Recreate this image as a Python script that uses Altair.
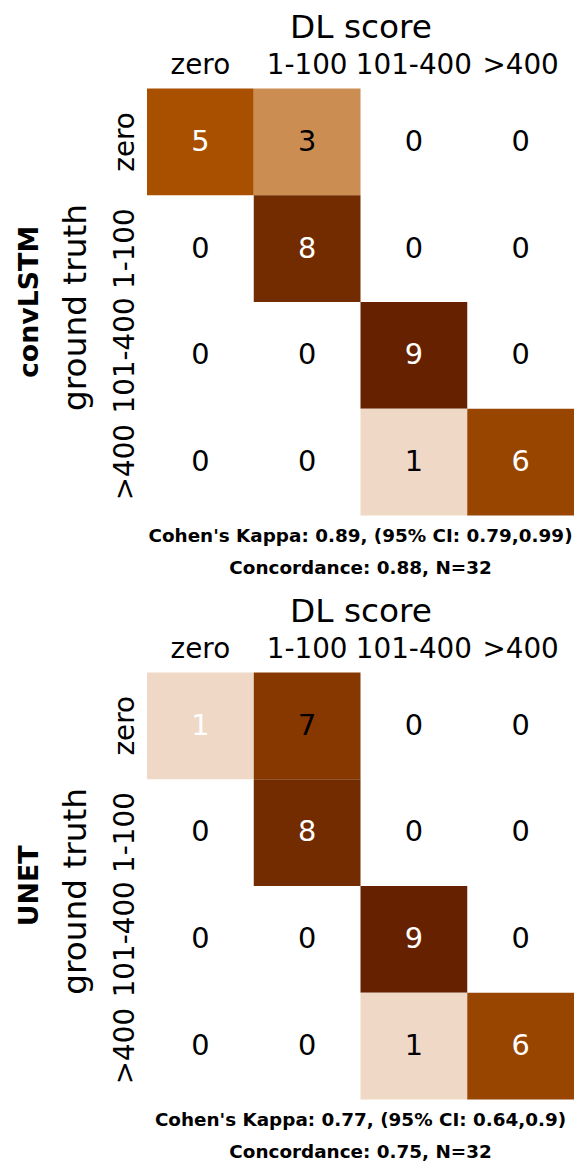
import altair as alt
import pandas as pd

categories = ["zero", "1-100", "101-400", ">400"]
convlstm_counts = [[5, 3, 0, 0],
                   [0, 8, 0, 0],
                   [0, 0, 9, 0],
                   [0, 0, 1, 6]]
unet_counts = [[1, 7, 0, 0],
               [0, 8, 0, 0],
               [0, 0, 9, 0],
               [0, 0, 1, 6]]
model_names = ["convLSTM", "UNET"]
kappa_texts = ["Cohen's Kappa: 0.89, (95% CI: 0.79,0.99)",
               "Cohen's Kappa: 0.77, (95% CI: 0.64,0.9)"]
concordance_texts = ["Concordance: 0.88, N=32", "Concordance: 0.75, N=32"]

color_domain = [1, 3, 5, 6, 7, 8, 9]
color_range = ["#efd9c6", "#cc8d52", "#a85000", "#984500", "#873800", "#732b00", "#662200"]

FONT = "DejaVu Sans"
W = 430
H = 430

# cells whose annotation is drawn in black in the reference
dark_text = {
    "convLSTM": "datum.v == 0 || datum.v == 3 || datum.v == 1",
    "UNET": "datum.v == 0 || datum.v == 7 || (datum.v == 1 && datum.truth == '>400')",
}


def panel(counts, name, kappa, conc):
    rows = []
    for i, t in enumerate(categories):
        for j, p in enumerate(categories):
            rows.append({"truth": t, "pred": p, "v": counts[i][j]})
    df = pd.DataFrame(rows)

    base = alt.Chart(df).encode(
        x=alt.X("pred:N", sort=categories,
                scale=alt.Scale(paddingInner=0, paddingOuter=0),
                axis=alt.Axis(orient="top", title="DL score", labelAngle=0,
                              labelFontSize=28, labelPadding=15,
                              labelBaseline="alphabetic",
                              titleFontSize=33, titleFontWeight="normal",
                              titleX=W / 2, titleY=-51, titleBaseline="alphabetic",
                              titleAlign="center")),
        y=alt.Y("truth:N", sort=categories,
                scale=alt.Scale(paddingInner=0, paddingOuter=0),
                axis=alt.Axis(orient="left", title="ground truth", labelAngle=270,
                              labelFontSize=28, labelPadding=14,
                              labelAlign="center", labelBaseline="alphabetic",
                              titleFontSize=33, titleFontWeight="normal",
                              titleAngle=270, titleX=-62, titleY=H / 2 + 5,
                              titleBaseline="alphabetic", titleAlign="center")),
    )
    rect = base.mark_rect().encode(
        color=alt.Color("v:Q", scale=alt.Scale(domain=color_domain, range=color_range),
                        legend=None)
    ).transform_filter("datum.v > 0")
    text = base.mark_text(font=FONT, fontSize=29, baseline="middle").encode(
        text="v:Q",
        color=alt.condition(dark_text[name], alt.value("black"), alt.value("white")),
    )
    info = pd.DataFrame({"name": [name], "kappa": [kappa], "conc": [conc]})
    label = alt.Chart(info).mark_text(font=FONT, fontSize=27, fontWeight="bold",
                                      angle=270, baseline="alphabetic", align="center",
                                      color="black").encode(
        x=alt.value(-110), y=alt.value(H / 2), text="name:N")
    ktext = alt.Chart(info).mark_text(font=FONT, fontSize=18.5, fontWeight="bold",
                                      baseline="middle", align="center",
                                      color="black").encode(
        x=alt.value(W / 2), y=alt.value(H + 21), text="kappa:N")
    ctext = alt.Chart(info).mark_text(font=FONT, fontSize=18.5, fontWeight="bold",
                                      baseline="middle", align="center",
                                      color="black").encode(
        x=alt.value(W / 2), y=alt.value(H + 53), text="conc:N")
    return alt.layer(rect, text, label, ktext, ctext).properties(width=W, height=H)


chart = alt.vconcat(
    panel(convlstm_counts, model_names[0], kappa_texts[0], concordance_texts[0]),
    panel(unet_counts, model_names[1], kappa_texts[1], concordance_texts[1]),
    spacing=18,
).configure_view(stroke=None).configure_axis(
    domain=False, ticks=False, tickSize=0, grid=False,
    labelFont=FONT, titleFont=FONT, labelColor="black", titleColor="black",
).properties(padding={"left": 8, "top": 0, "right": 0, "bottom": 0})

chart.save("out.html", embed_options={"renderer": "svg", "actions": False})
